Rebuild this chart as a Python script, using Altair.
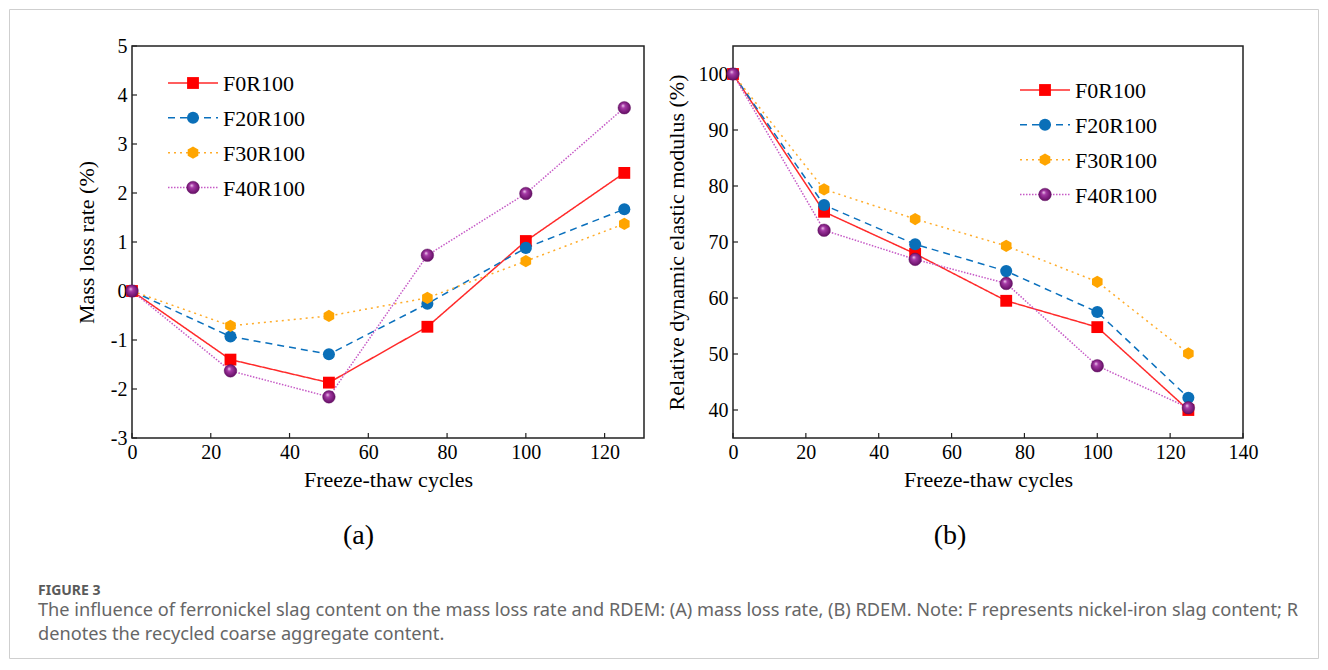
import altair as alt
import pandas as pd

# ---------------- data ----------------
cycles = [0, 25, 50, 75, 100, 125]
series = ["F0R100", "F20R100", "F30R100", "F40R100"]

mass_f0 = [0, -1.40, -1.87, -0.73, 1.02, 2.41]
mass_f20 = [0, -0.93, -1.29, -0.26, 0.88, 1.67]
mass_f30 = [0, -0.71, -0.51, -0.14, 0.61, 1.37]
mass_f40 = [0, -1.63, -2.16, 0.73, 1.99, 3.74]

rdem_f0 = [100, 75.4, 67.9, 59.5, 54.8, 40.0]
rdem_f20 = [100, 76.6, 69.6, 64.8, 57.5, 42.2]
rdem_f30 = [100, 79.4, 74.1, 69.3, 62.9, 50.1]
rdem_f40 = [100, 72.1, 66.9, 62.6, 47.9, 40.4]

mass_x_ticks = [0, 20, 40, 60, 80, 100, 120]
mass_y_ticks = [-3, -2, -1, 0, 1, 2, 3, 4, 5]
rdem_x_ticks = [0, 20, 40, 60, 80, 100, 120, 140]
rdem_y_ticks = [40, 50, 60, 70, 80, 90, 100]

x_title = "Freeze-thaw cycles"
mass_title = "Mass loss rate (%)"
rdem_title = "Relative dynamic elastic modulus (%)"

caption_head = "FIGURE 3"
caption_line1 = ("The influence of ferronickel slag content on the mass loss rate and RDEM: (A) mass loss rate, "
                 "(B) RDEM. Note: F represents nickel-iron slag content; R")
caption_line2 = "denotes the recycled coarse aggregate content."

# ---------------- styles ----------------
SERIF = "Liberation Serif"
line_colors = ["#ff2a2a", "#0a70bd", "#ffac2a", "#c65ac6"]
marker_colors = ["#ff0000", "#0a6fb8", "#ffa500", "#8b1a8b"]
dashes = [[1, 0], [7, 5], [2, 4], [1.5, 1.5]]
widths = [1.5, 1.5, 2.0, 1.3]
HEX = "M0,-1L0.866,-0.5L0.866,0.5L0,1L-0.866,0.5L-0.866,-0.5Z"
shapes = ["square", "circle", HEX]
sizes = [140, 150, 210]
sphere = {
    "gradient": "radial",
    "x1": 0.38, "y1": 0.32, "r1": 0.0,
    "x2": 0.5, "y2": 0.5, "r2": 0.55,
    "stops": [
        {"offset": 0.0, "color": "#f4d8f4"},
        {"offset": 0.3, "color": "#a63aa6"},
        {"offset": 1.0, "color": "#5e0a5e"},
    ],
}


def long_df(values):
    rows = []
    for s, vals in zip(series, values):
        for c, v in zip(cycles, vals):
            rows.append({"series": s, "cycles": c, "value": v})
    return pd.DataFrame(rows)


def one():
    return alt.Data(values=[{}])


def panel(values, xdomain, ydomain, xticks, yticks, w, h, ytitle, ytitle_x,
          leg_top, leg_x0, tag, tag_x, extras):
    df = long_df(values)
    xs = alt.Scale(domain=xdomain, nice=False, zero=False)
    ys = alt.Scale(domain=ydomain, nice=False, zero=False)
    xax = alt.Axis(values=xticks, title=x_title, labelPadding=4,
                   titleY=48, titleBaseline="alphabetic", labelExpr="toString(datum.value)")
    yax = alt.Axis(values=yticks, title=ytitle, labelPadding=5,
                   titleX=ytitle_x, titleBaseline="alphabetic", labelExpr="toString(datum.value)")
    color = alt.Color("series:N", scale=alt.Scale(domain=series, range=line_colors), legend=None)
    dash = alt.StrokeDash("series:N", scale=alt.Scale(domain=series, range=dashes), legend=None)
    sw = alt.StrokeWidth("series:O", scale=alt.Scale(domain=series, range=widths), legend=None)
    fill = alt.Fill("series:N", scale=alt.Scale(domain=series, range=marker_colors), legend=None)
    shape = alt.Shape("series:N", scale=alt.Scale(domain=series[:3], range=shapes), legend=None)
    size = alt.Size("series:O", scale=alt.Scale(domain=series[:3], range=sizes), legend=None)

    X = alt.X("cycles:Q", scale=xs, axis=xax)
    Y = alt.Y("value:Q", scale=ys, axis=yax)

    lines = alt.Chart(df).mark_line().encode(
        x=X, y=Y, color=color, strokeDash=dash, strokeWidth=sw,
    )
    pts = alt.Chart(df).transform_filter(
        alt.datum.series != "F40R100"
    ).mark_point(filled=True, opacity=1, strokeWidth=0).encode(
        x=X, y=Y, fill=fill, shape=shape, size=size,
    )
    sph = alt.Chart(df).transform_filter(
        alt.datum.series == "F40R100"
    ).mark_point(shape="circle", size=160, fill=sphere, filled=True, opacity=1,
                 stroke="#5a0a5a", strokeWidth=0.4).encode(x=X, y=Y)
    xt = alt.Chart(pd.DataFrame({"cycles": xticks})).mark_rule(color="#222", strokeWidth=1.2).encode(
        x=X, y=alt.value(h), y2=alt.value(h - 5))
    yt = alt.Chart(pd.DataFrame({"value": yticks})).mark_rule(color="#222", strokeWidth=1.2).encode(
        y=Y, x=alt.value(0), x2=alt.value(5))
    tag_t = alt.Chart(one()).mark_text(text=tag, font=SERIF, fontSize=28, color="black",
                                      align="center", baseline="middle").encode(
        x=alt.value(tag_x), y=alt.value(490))

    main = alt.layer(*extras, lines, xt, yt, pts, sph, tag_t)

    # legend (own vertical point scale)
    leg = pd.DataFrame({"series": series})
    ly = alt.Y("series:N", scale=alt.Scale(type="point", domain=series,
                                           range=[leg_top, leg_top + 104.5], padding=0), axis=None)
    l_lines = alt.Chart(leg).mark_rule().encode(
        x=alt.value(leg_x0), x2=alt.value(leg_x0 + 50), y=ly,
        color=color, strokeDash=dash, strokeWidth=sw)
    l_pts = alt.Chart(leg).transform_filter(alt.datum.series != "F40R100").mark_point(
        filled=True, opacity=1, strokeWidth=0).encode(
        x=alt.value(leg_x0 + 25), y=ly, fill=fill, shape=shape, size=size)
    l_sph = alt.Chart(leg).transform_filter(alt.datum.series == "F40R100").mark_point(
        shape="circle", size=160, fill=sphere, filled=True, opacity=1,
        stroke="#5a0a5a", strokeWidth=0.4).encode(x=alt.value(leg_x0 + 25), y=ly)
    l_txt = alt.Chart(leg).mark_text(font=SERIF, fontSize=22, color="black", align="left",
                                     baseline="middle", dy=1).encode(
        x=alt.value(leg_x0 + 55), y=ly, text="series:N")
    legend = alt.layer(l_lines, l_pts, l_sph, l_txt)

    return alt.layer(main, legend).resolve_scale(y="independent").properties(width=w, height=h)


# annotations that belong to the figure frame (placed in panel a's coordinates)
border = alt.Chart(one()).mark_rect(fill="#ffffff", fillOpacity=0, stroke="#cfcfcf", strokeWidth=1).encode(
    x=alt.value(-122.5), x2=alt.value(1186.5), y=alt.value(-36.5), y2=alt.value(612.5))
cap_head = alt.Chart(one()).mark_text(text=caption_head, font="Noto Sans", fontSize=14, fontWeight="bold",
                                     color="#5a5a5a", align="left", baseline="alphabetic").encode(
    x=alt.value(-94), y=alt.value(549))
cap1 = alt.Chart(one()).mark_text(text=caption_line1, font="Noto Sans", fontSize=18.2,
                                  color="#666666", align="left", baseline="alphabetic").encode(
    x=alt.value(-94), y=alt.value(570))
cap2 = alt.Chart(one()).mark_text(text=caption_line2, font="Noto Sans", fontSize=18.2,
                                  color="#666666", align="left", baseline="alphabetic").encode(
    x=alt.value(-94), y=alt.value(594))

panel_a = panel([mass_f0, mass_f20, mass_f30, mass_f40], [0, 130], [-3, 5],
                mass_x_ticks, mass_y_ticks, 512, 392, mass_title, -39,
                37, 36, "(a)", 226.5, [border, cap_head, cap1, cap2])
panel_b = panel([rdem_f0, rdem_f20, rdem_f30, rdem_f40], [0, 140], [35, 105],
                rdem_x_ticks, rdem_y_ticks, 510, 392, rdem_title, -50,
                44, 287, "(b)", 217, [])

chart = alt.hconcat(panel_a, panel_b, spacing=89, bounds="flush").properties(
    padding=0, background="white"
).configure_view(
    stroke="#222222", strokeWidth=1.5
).configure_axis(
    domain=False, ticks=False, grid=False,
    labelFont=SERIF, labelFontSize=20, labelColor="black",
    titleFont=SERIF, titleFontSize=22, titleFontWeight="normal", titleColor="black",
    labelFlush=False, labelOverlap=False,
)

chart.save("out.html", embed_options={"renderer": "svg", "actions": False})
